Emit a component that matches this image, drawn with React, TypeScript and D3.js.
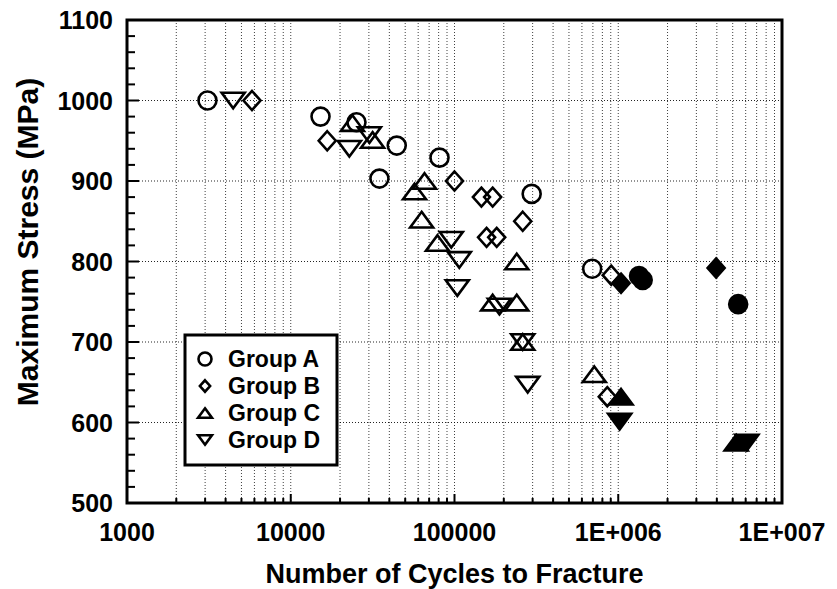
import React from 'react';
import * as d3 from 'd3';

// ---- Data (cycles to fracture, maximum stress MPa, filled marker flag) ----
const groupACycles = [3100, 15200, 25200, 34800, 44400, 81000, 296000, 693000, 1340000, 1410000, 5400000];
const groupAStress = [1000, 980, 973, 903, 944, 929, 884, 791, 782, 777, 747];
const groupAFilled = [false, false, false, false, false, false, false, false, true, true, true];

const groupBCycles = [5800, 16700, 100000, 146000, 171000, 157000, 181000, 261000, 906000, 857000, 1040000, 3960000];
const groupBStress = [1000, 950, 900, 880, 880, 830, 830, 850, 783, 632, 773, 792];
const groupBFilled = [false, false, false, false, false, false, false, false, false, false, true, true];

const groupCCycles = [23800, 31600, 57000, 65600, 63000, 78700, 240000, 171000, 240000, 261000, 714000, 1040000, 5250000];
const groupCStress = [972, 951, 887, 900, 852, 823, 800, 749, 749, 700, 660, 632, 575];
const groupCFilled = [false, false, false, false, false, false, false, false, false, false, false, true, true];

const groupDCycles = [4450, 22800, 30200, 95600, 107000, 104000, 188000, 261000, 280000, 1020000, 6100000];
const groupDStress = [1000, 940, 957, 827, 802, 767, 744, 700, 647, 601, 575];
const groupDFilled = [false, false, false, false, false, false, false, false, false, true, true];

const groupNames = ['Group A', 'Group B', 'Group C', 'Group D'];
const groupShapes = ['circle', 'diamond', 'up', 'down'];

const xTickValues = [1000, 10000, 100000, 1000000, 10000000];
const xTickLabels = ['1000', '10000', '100000', '1E+006', '1E+007'];
const yTickValues = [500, 600, 700, 800, 900, 1000, 1100];

const xTitle = 'Number of Cycles to Fracture';
const yTitle = 'Maximum Stress (MPa)';

const W = 837;
const H = 589;
const PL = 127, PR = 782, PT = 20, PB = 503;
const FONT = '"Liberation Sans", Arial, Helvetica, sans-serif';

function shapePath(shape: string, s: number): string {
  if (shape === 'diamond') {
    const hw = s * 0.85, hh = s * 0.95;
    return `M0,${-hh}L${hw},0L0,${hh}L${-hw},0Z`;
  }
  const hw = s * 1.15, hh = s * 0.78;
  if (shape === 'up') return `M0,${-hh}L${hw},${hh}L${-hw},${hh}Z`;
  return `M0,${hh}L${hw},${-hh}L${-hw},${-hh}Z`;
}

function Marker({ shape, cx, cy, size, filled, sw }: { shape: string; cx: number; cy: number; size: number; filled: boolean; sw: number }) {
  const fill = filled ? '#000' : 'none';
  if (shape === 'circle') {
    return <circle cx={cx} cy={cy} r={size} fill={fill} stroke="#000" strokeWidth={sw} />;
  }
  return <path d={shapePath(shape, size)} transform={`translate(${cx},${cy})`} fill={fill} stroke="#000" strokeWidth={sw} strokeLinejoin="miter" />;
}

export default function App() {
  const x = d3.scaleLog().domain([1e3, 1e7]).range([PL, PR]);
  const y = d3.scaleLinear().domain([500, 1100]).range([PB, PT]);

  const minorX: number[] = [];
  for (let e = 3; e < 7; e++) {
    for (let m = 1; m <= 9; m++) minorX.push(m * Math.pow(10, e));
  }
  const gridX = minorX.filter((v) => v > 1000);
  const yMinor = d3.range(500, 1101, 20);

  const groups = [
    { c: groupACycles, s: groupAStress, f: groupAFilled },
    { c: groupBCycles, s: groupBStress, f: groupBFilled },
    { c: groupCCycles, s: groupCStress, f: groupCFilled },
    { c: groupDCycles, s: groupDStress, f: groupDFilled },
  ];

  const legendX = 185, legendY = 335, legendW = 152, legendH = 130;
  const rowY = [359, 386, 413, 440];

  return (
    <div style={{ position: 'fixed', left: 0, top: 0 }}>
      <svg width={W} height={H} viewBox={`0 0 ${W} ${H}`} style={{ display: 'block', background: '#fff' }}>
        {/* vertical grid */}
        {gridX.map((v, i) => (
          <line key={'gx' + i} x1={x(v)} x2={x(v)} y1={PT} y2={PB} stroke="#000" strokeWidth={1} strokeDasharray="1,2" opacity={0.75} />
        ))}
        {/* horizontal grid */}
        {yTickValues.filter((v) => v > 500 && v < 1100).map((v) => (
          <line key={'gy' + v} x1={PL} x2={PR} y1={y(v)} y2={y(v)} stroke="#000" strokeWidth={1} strokeDasharray="1,2" opacity={0.85} />
        ))}
        {/* y ticks */}
        {yMinor.map((v) => (
          <line key={'yt' + v} x1={PL} x2={PL + (v % 100 === 0 ? 12 : 8)} y1={y(v)} y2={y(v)} stroke="#000" strokeWidth={2} />
        ))}
        {/* x ticks */}
        {minorX.map((v, i) => (
          <line key={'xt' + i} x1={x(v)} x2={x(v)} y1={PB} y2={PB - (xTickValues.includes(v) ? 9 : 5)} stroke="#000" strokeWidth={2} />
        ))}
        {/* frame */}
        <rect x={PL} y={PT} width={PR - PL} height={PB - PT} fill="none" stroke="#000" strokeWidth={3} />

        {/* data */}
        {groups.map((g, gi) =>
          g.c.map((cv, i) => (
            <Marker key={`m${gi}-${i}`} shape={groupShapes[gi]} cx={x(cv)} cy={y(g.s[i])} size={groupShapes[gi] === 'circle' ? 9 : 10} filled={g.f[i]} sw={2.6} />
          ))
        )}

        {/* y tick labels */}
        {yTickValues.map((v) => (
          <text key={'yl' + v} x={PL - 14} y={y(v)} dy="0.36em" textAnchor="end" fontFamily={FONT} fontWeight="bold" fontSize={25}>{v}</text>
        ))}
        {/* x tick labels */}
        {xTickValues.map((v, i) => (
          <text key={'xl' + v} x={x(v)} y={541} textAnchor="middle" fontFamily={FONT} fontWeight="bold" fontSize={25}>{xTickLabels[i]}</text>
        ))}
        {/* axis titles */}
        <text x={(PL + PR) / 2} y={583} textAnchor="middle" fontFamily={FONT} fontWeight="bold" fontSize={27}>{xTitle}</text>
        <text transform={`translate(38,242) rotate(-90)`} textAnchor="middle" fontFamily={FONT} fontWeight="bold" fontSize={30}>{yTitle}</text>

        {/* legend */}
        <rect x={legendX} y={legendY} width={legendW} height={legendH} fill="#fff" stroke="#000" strokeWidth={3} />
        {groupNames.map((name, i) => (
          <g key={'lg' + i}>
            <Marker shape={groupShapes[i]} cx={205} cy={rowY[i]} size={groupShapes[i] === 'circle' ? 6.5 : 6} filled={false} sw={2.6} />
            <text x={228} y={rowY[i]} dy="0.36em" fontFamily={FONT} fontWeight="bold" fontSize={23}>{name}</text>
          </g>
        ))}
      </svg>
    </div>
  );
}
